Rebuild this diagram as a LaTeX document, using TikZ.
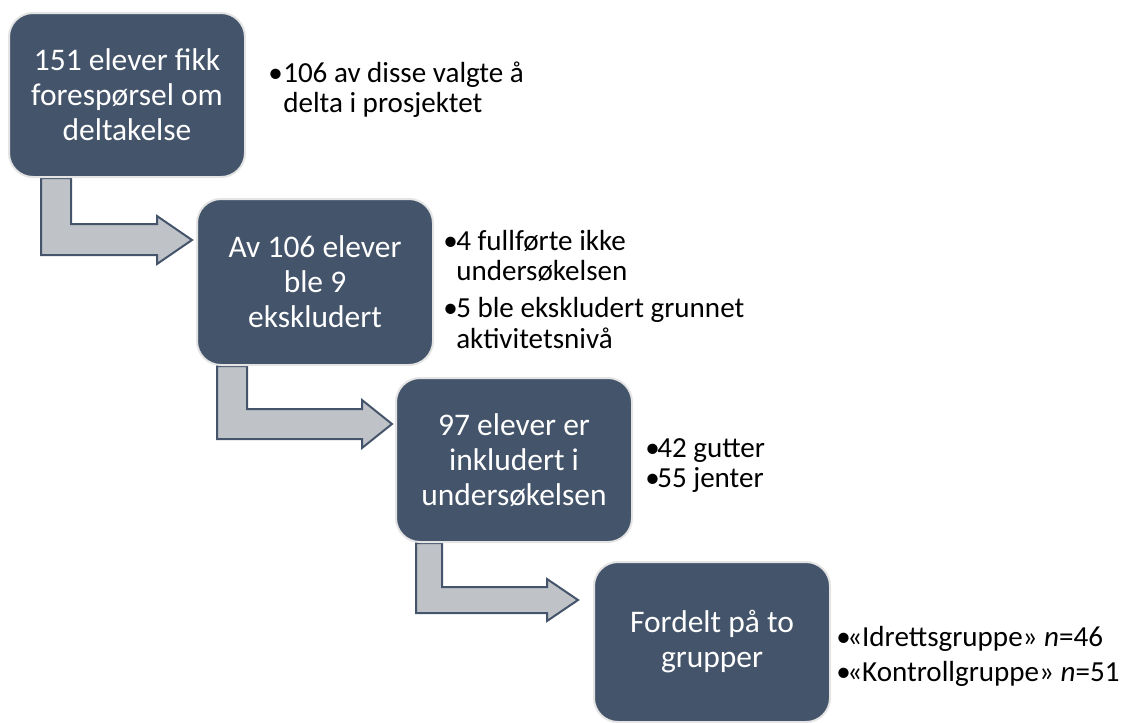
\documentclass[tikz,border=0pt]{standalone}
\usepackage{fontspec}
\setmainfont{Carlito}
\usetikzlibrary{calc}
\definecolor{boxfill}{HTML}{44546A}
\definecolor{boxline}{HTML}{E4E4E4}
\definecolor{arrfill}{HTML}{BFC2C7}
\tikzset{
  x=0.75pt, y=-0.75pt,
  stepbox/.style={rectangle, rounded corners=18pt, fill=boxfill, draw=boxline, line width=1.5pt,
    text=white, align=center, inner sep=0pt, minimum width=177pt,
    font=\fontsize{23.6pt}{26.25pt}\selectfont},
  bendarrow/.style={fill=arrfill, draw=boxfill, line width=1.5pt, line join=miter},
  bt/.style={anchor=base west, inner sep=0pt, text=black, font=\fontsize{21.8pt}{25pt}\selectfont},
}
\begin{document}
\begin{tikzpicture}
\useasboundingbox (0,0) rectangle (1130,722);
% invisible placeholders for the step boxes
\path
  node[stepbox, minimum height=123pt, draw=none, fill=none] (b1) at (127,95) {}
  node[stepbox, minimum height=124.5pt, draw=none, fill=none] (b2) at (315,282) {}
  node[stepbox, minimum height=123pt, draw=none, fill=none] (b3) at (514,460) {}
  node[stepbox, minimum height=120pt, draw=none, fill=none] (b4) at (712,642) {};
% bent arrows
\draw[bendarrow] ($(b1.south west)+(33,0)$) coordinate (a1) -- ++(30,0) -- ++(0,46) -- ++(86,0) -- ++(0,-8)
  -- ++(35,24) -- ++(-35,24) -- ++(0,-9) -- ++(-116,0) -- cycle;
\draw[bendarrow] ($(b2.south west)+(21,0)$) coordinate (a2) -- ++(30,0) -- ++(0,43) -- ++(115,0) -- ++(0,-9)
  -- ++(30,24) -- ++(-30,24) -- ++(0,-9) -- ++(-145,0) -- cycle;
\draw[bendarrow] ($(b3.south west)+(21,0)$) coordinate (a3) -- ++(26,0) -- ++(0,44) -- ++(105,0) -- ++(0,-8)
  -- ++(31,21) -- ++(-31,21) -- ++(0,-8) -- ++(-131,0) -- cycle;
% visible boxes
\node[stepbox, minimum height=123pt] (B1) at (b1) {151 elever fikk\\forespørsel om\\deltakelse};
\node[stepbox, minimum height=124.5pt] (B2) at (b2) {Av 106 elever\\ble 9\\ekskludert};
\node[stepbox, minimum height=123pt] (B3) at (b3) {97 elever er\\inkludert i\\undersøkelsen};
\node[stepbox, minimum height=120pt] (B4) at (b4) {Fordelt på to\\grupper};
% bullets box 1
\node[bt] (p1) at (268,82) {•};
\node[bt] (t1a) at (283,82) {106 av disse valgte å};
\node[bt] (t1b) at (283,112) {delta i prosjektet};
% bullets box 2
\node[bt] (p2a) at (443,250) {•};
\node[bt] (t2a) at (456,250) {4 fullførte ikke};
\node[bt] (t2b) at (456,280) {undersøkelsen};
\node[bt] (p2b) at (443,317) {•};
\node[bt] (t2c) at (456,317) {5 ble ekskludert grunnet};
\node[bt] (t2d) at (456,348) {aktivitetsnivå};
% bullets box 3
\node[bt] (p3a) at (645,457) {•};
\node[bt] (t3a) at (657,457) {42 gutter};
\node[bt] (p3b) at (645,487) {•};
\node[bt] (t3b) at (657,487) {55 jenter};
% bullets box 4
\node[bt] (p4a) at (836,646) {•};
\node[bt] (t4a) at (847,646) {«Idrettsgruppe» \textit{n}=46};
\node[bt] (p4b) at (836,681) {•};
\node[bt] (t4b) at (847,681) {«Kontrollgruppe» \textit{n}=51};
\end{tikzpicture}
\end{document}
